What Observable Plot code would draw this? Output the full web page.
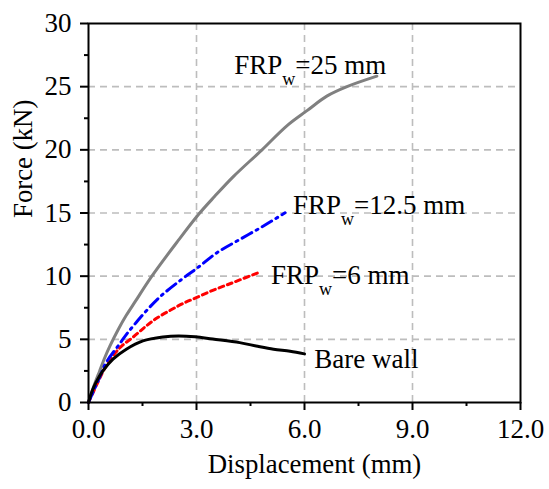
<!DOCTYPE html>
<html>
<head>
<meta charset="utf-8">
<script src="https://cdn.jsdelivr.net/npm/d3@7"></script>
<script src="https://cdn.jsdelivr.net/npm/@observablehq/plot@0.6"></script>
<style>
  html, body { margin: 0; padding: 0; background: #fff; }
  #chart svg { display: block; }
  #chart svg, #chart svg text, #chart svg tspan { font-family: "Liberation Serif", "Times New Roman", serif !important; }
</style>
</head>
<body>
<div id="chart"></div>
<script>
// ---- data ----
const xTicks = [0, 3, 6, 9, 12];
const xMinorTicks = [1.5, 4.5, 7.5, 10.5];
const yTicks = [0, 5, 10, 15, 20, 25, 30];
const yMinorTicks = [2.5, 7.5, 12.5, 17.5, 22.5, 27.5];

const dispFRP25  = [0, 0.15, 0.31, 0.46, 0.6, 0.83, 1.05, 1.3, 1.76, 2.46, 3.06, 3.5, 4.03, 4.82, 5.51, 6.07, 6.62, 7.18, 8.01];
const forceFRP25 = [0, 1.3, 2.5, 3.6, 4.5, 5.8, 6.9, 8.0, 10.0, 12.7, 14.9, 16.3, 17.9, 20.0, 21.9, 23.1, 24.25, 25.0, 25.83];

const dispFRP12  = [0, 0.31, 0.49, 0.86, 1.07, 1.33, 1.62, 2.0, 2.59, 3.0, 3.57, 4.21, 4.86, 5.46];
const forceFRP12 = [0, 2.0, 3.16, 4.62, 5.45, 6.35, 7.3, 8.4, 9.75, 10.6, 11.86, 12.92, 13.97, 15.02];

const dispFRP6  = [0, 0.26, 0.49, 0.86, 1.25, 1.6, 1.9, 2.27, 2.6, 3.01, 3.47, 3.84, 4.2, 4.72];
const forceFRP6 = [0, 1.6, 2.9, 4.3, 5.2, 6.05, 6.68, 7.3, 7.8, 8.32, 8.9, 9.3, 9.7, 10.28];

const dispBare  = [0, 0.1, 0.21, 0.4, 0.68, 1.05, 1.51, 2.07, 2.5, 2.96, 3.45, 4.2, 4.7, 5.14, 5.6, 6.0];
const forceBare = [0, 0.9, 1.6, 2.5, 3.43, 4.22, 4.88, 5.19, 5.27, 5.2, 5.02, 4.74, 4.45, 4.22, 4.05, 3.85];

const labelText = ["FRP_w=25 mm", "FRP_w=12.5 mm", "FRP_w=6 mm", "Bare wall"];
const labelX = [4.05, 5.68, 5.07, 6.27];
const labelY = [26.04, 14.89, 9.36, 2.77];

const xTitle = "Displacement (mm)";
const yTitle = "Force (kN)";

// ---- build tables ----
const toRows = (xs, ys) => xs.map((x, i) => ({x, y: ys[i]}));
const labels = labelText.map((t, i) => ({text: t, x: labelX[i], y: labelY[i]}));

const FONT = "Liberation Serif, Times New Roman, serif";
const gridStyle = {stroke: "#bdbdbd", strokeOpacity: 1, strokeWidth: 1.6, strokeDasharray: "7,5"};

const chart = Plot.plot({
  width: 549,
  height: 489,
  marginLeft: 88,
  marginRight: 29,
  marginTop: 23,
  marginBottom: 87,
  style: {fontFamily: FONT, background: "#fff", color: "#000"},
  x: {domain: [0, 12]},
  y: {domain: [0, 30]},
  marks: [
    Plot.gridX(xTicks.slice(1, -1), gridStyle),
    Plot.gridY(yTicks.slice(1, -1), gridStyle),
    Plot.axisX(xTicks, {tickSize: 8, tickPadding: 8, strokeWidth: 2, fontSize: 27, fill: "#000", tickFormat: d3.format(".1f"), label: null}),
    Plot.axisX(xMinorTicks, {tickSize: 4, strokeWidth: 2, text: null, label: null}),
    Plot.axisY(yTicks, {tickSize: 8, tickPadding: 9, strokeWidth: 2, fontSize: 27, fill: "#000", tickFormat: d3.format("d"), label: null}),
    Plot.axisY(yMinorTicks, {tickSize: 4, strokeWidth: 2, text: null, label: null}),
    Plot.line(toRows(dispFRP25, forceFRP25), {x: "x", y: "y", stroke: "#808080", strokeWidth: 3, curve: "catmull-rom"}),
    Plot.line(toRows(dispFRP6, forceFRP6), {x: "x", y: "y", stroke: "#ff0000", strokeWidth: 3, strokeDasharray: "5,4", curve: "catmull-rom"}),
    Plot.line(toRows(dispFRP12, forceFRP12), {x: "x", y: "y", stroke: "#0000ff", strokeWidth: 3, strokeDasharray: "11,5,2,5", curve: "catmull-rom"}),
    Plot.line(toRows(dispBare, forceBare), {x: "x", y: "y", stroke: "#000000", strokeWidth: 3, curve: "catmull-rom"}),
    Plot.frame({stroke: "#000", strokeWidth: 2}),
    Plot.text(labels, {x: "x", y: "y", text: "text", textAnchor: "start", lineAnchor: "bottom", fontSize: 27, fill: "#000", className: "curve-label"}),
    Plot.text([xTitle], {frameAnchor: "bottom", dx: 10, dy: 70, text: d => d, fontSize: 26.8, fill: "#000"}),
    Plot.text([yTitle], {frameAnchor: "left", dx: -65, dy: 5, rotate: -90, text: d => d, fontSize: 26.8, fill: "#000"})
  ]
});

// subscript "w" in the curve labels
d3.select(chart).selectAll("g.curve-label text").each(function () {
  const t = this.textContent;
  const parts = t.split("_w");
  if (parts.length < 2) return;
  const sel = d3.select(this);
  sel.text(null);
  sel.append("tspan").text(parts[0]);
  sel.append("tspan").attr("font-size", 18).attr("dy", 11).text("w");
  sel.append("tspan").attr("dy", -11).text(parts[1]);
});

document.getElementById("chart").appendChild(chart);
</script>
</body>
</html>
